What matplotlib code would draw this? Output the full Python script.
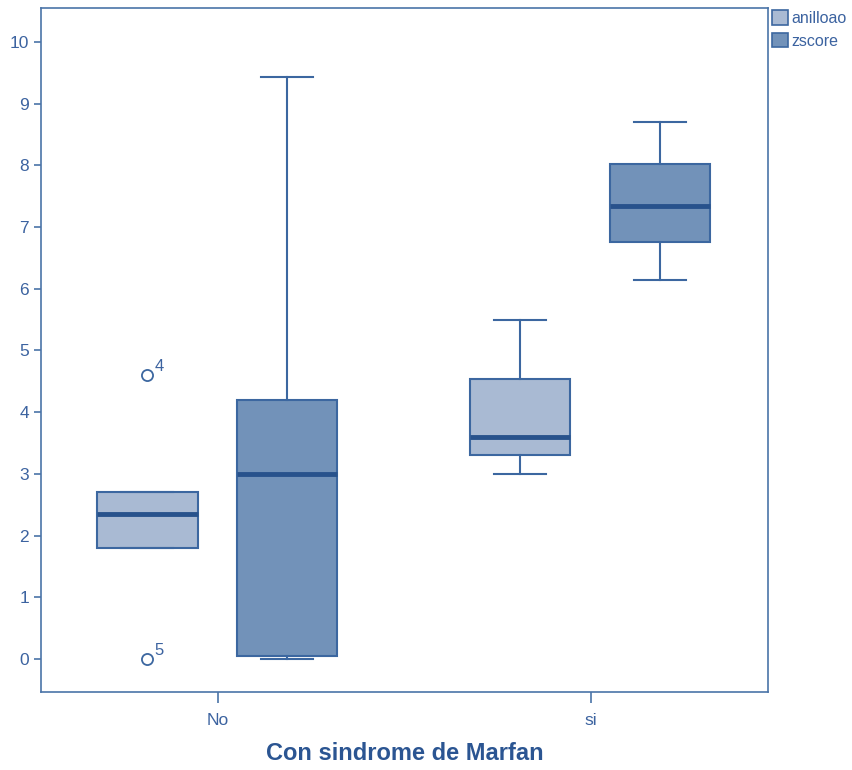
import matplotlib
matplotlib.use('Agg')
import matplotlib.pyplot as plt
from matplotlib.patches import Patch

plt.rcParams['font.family'] = ['Liberation Sans', 'DejaVu Sans']

# data (box stats per group / variable)
groups = ['No', 'si']
series = ['anilloao', 'zscore']
q1 = {'anilloao': [1.80, 3.31], 'zscore': [0.05, 6.76]}
med = {'anilloao': [2.35, 3.60], 'zscore': [3.00, 7.34]}
q3 = {'anilloao': [2.71, 4.54], 'zscore': [4.20, 8.02]}
wlo = {'anilloao': [1.80, 3.00], 'zscore': [0.00, 6.14]}
whi = {'anilloao': [2.71, 5.49], 'zscore': [9.43, 8.70]}
outliers = {'anilloao': [[4.60, 0.0], []], 'zscore': [[], []]}
outlier_ids = {'anilloao': [['4', '5'], []], 'zscore': [[], []]}

line_col = '#3c67a0'
med_col = '#28528c'
fills = {'anilloao': '#a9bad3', 'zscore': '#7292b9'}
offsets = {'anilloao': -0.19, 'zscore': 0.185}
text_col = '#3c63a0'

fig = plt.figure(figsize=(8.52, 7.70), dpi=100)
ax = fig.add_axes([41 / 852, 1 - 692 / 770, 727 / 852, 684 / 770])

for s in series:
    stats = []
    for i in range(len(groups)):
        stats.append(dict(q1=q1[s][i], med=med[s][i], q3=q3[s][i],
                          whislo=wlo[s][i], whishi=whi[s][i],
                          fliers=outliers[s][i]))
    pos = [i + offsets[s] for i in range(len(groups))]
    ax.bxp(stats, positions=pos, widths=0.27, patch_artist=True,
           showfliers=True, manage_ticks=False,
           boxprops=dict(facecolor=fills[s], edgecolor=line_col, linewidth=1.5),
           medianprops=dict(color=med_col, linewidth=3.5),
           whiskerprops=dict(color=line_col, linewidth=1.5),
           capprops=dict(color=line_col, linewidth=1.5),
           capwidths=0.14,
           flierprops=dict(marker='o', markerfacecolor='none',
                           markeredgecolor=line_col, markersize=8,
                           markeredgewidth=1.3))
    for i in range(len(groups)):
        for v, lab in zip(outliers[s][i], outlier_ids[s][i]):
            ax.annotate(lab, (pos[i], v), xytext=(5, 3), textcoords='offset points',
                        fontsize=12, color=text_col)

ax.set_xlim(-0.475, 1.475)
ax.set_ylim(-0.535, 10.55)
ax.set_xticks(range(len(groups)))
ax.set_xticklabels(groups)
ax.set_yticks(range(0, 11))

for sp in ax.spines.values():
    sp.set_color('#4a74a8')
    sp.set_linewidth(1.2)
ax.tick_params(colors='#4a74a8', labelcolor=text_col, labelsize=12.5, length=5, width=1.2)
ax.tick_params(axis='x', length=8, pad=7)

ax.set_xlabel('Con sindrome de Marfan', fontsize=17, fontweight='bold',
              color='#2b5592', labelpad=10)

handles = [Patch(facecolor=fills[s], edgecolor=line_col, linewidth=1.2, label=s) for s in series]
ax.legend(handles=handles, loc='upper left', bbox_to_anchor=(1.002, 1.0),
          frameon=False, fontsize=11.5, labelcolor=text_col,
          handlelength=1.0, handleheight=1.0, handletextpad=0.25,
          borderaxespad=0.0, borderpad=0.15, labelspacing=0.45)

fig.savefig('out.png', dpi=100)
